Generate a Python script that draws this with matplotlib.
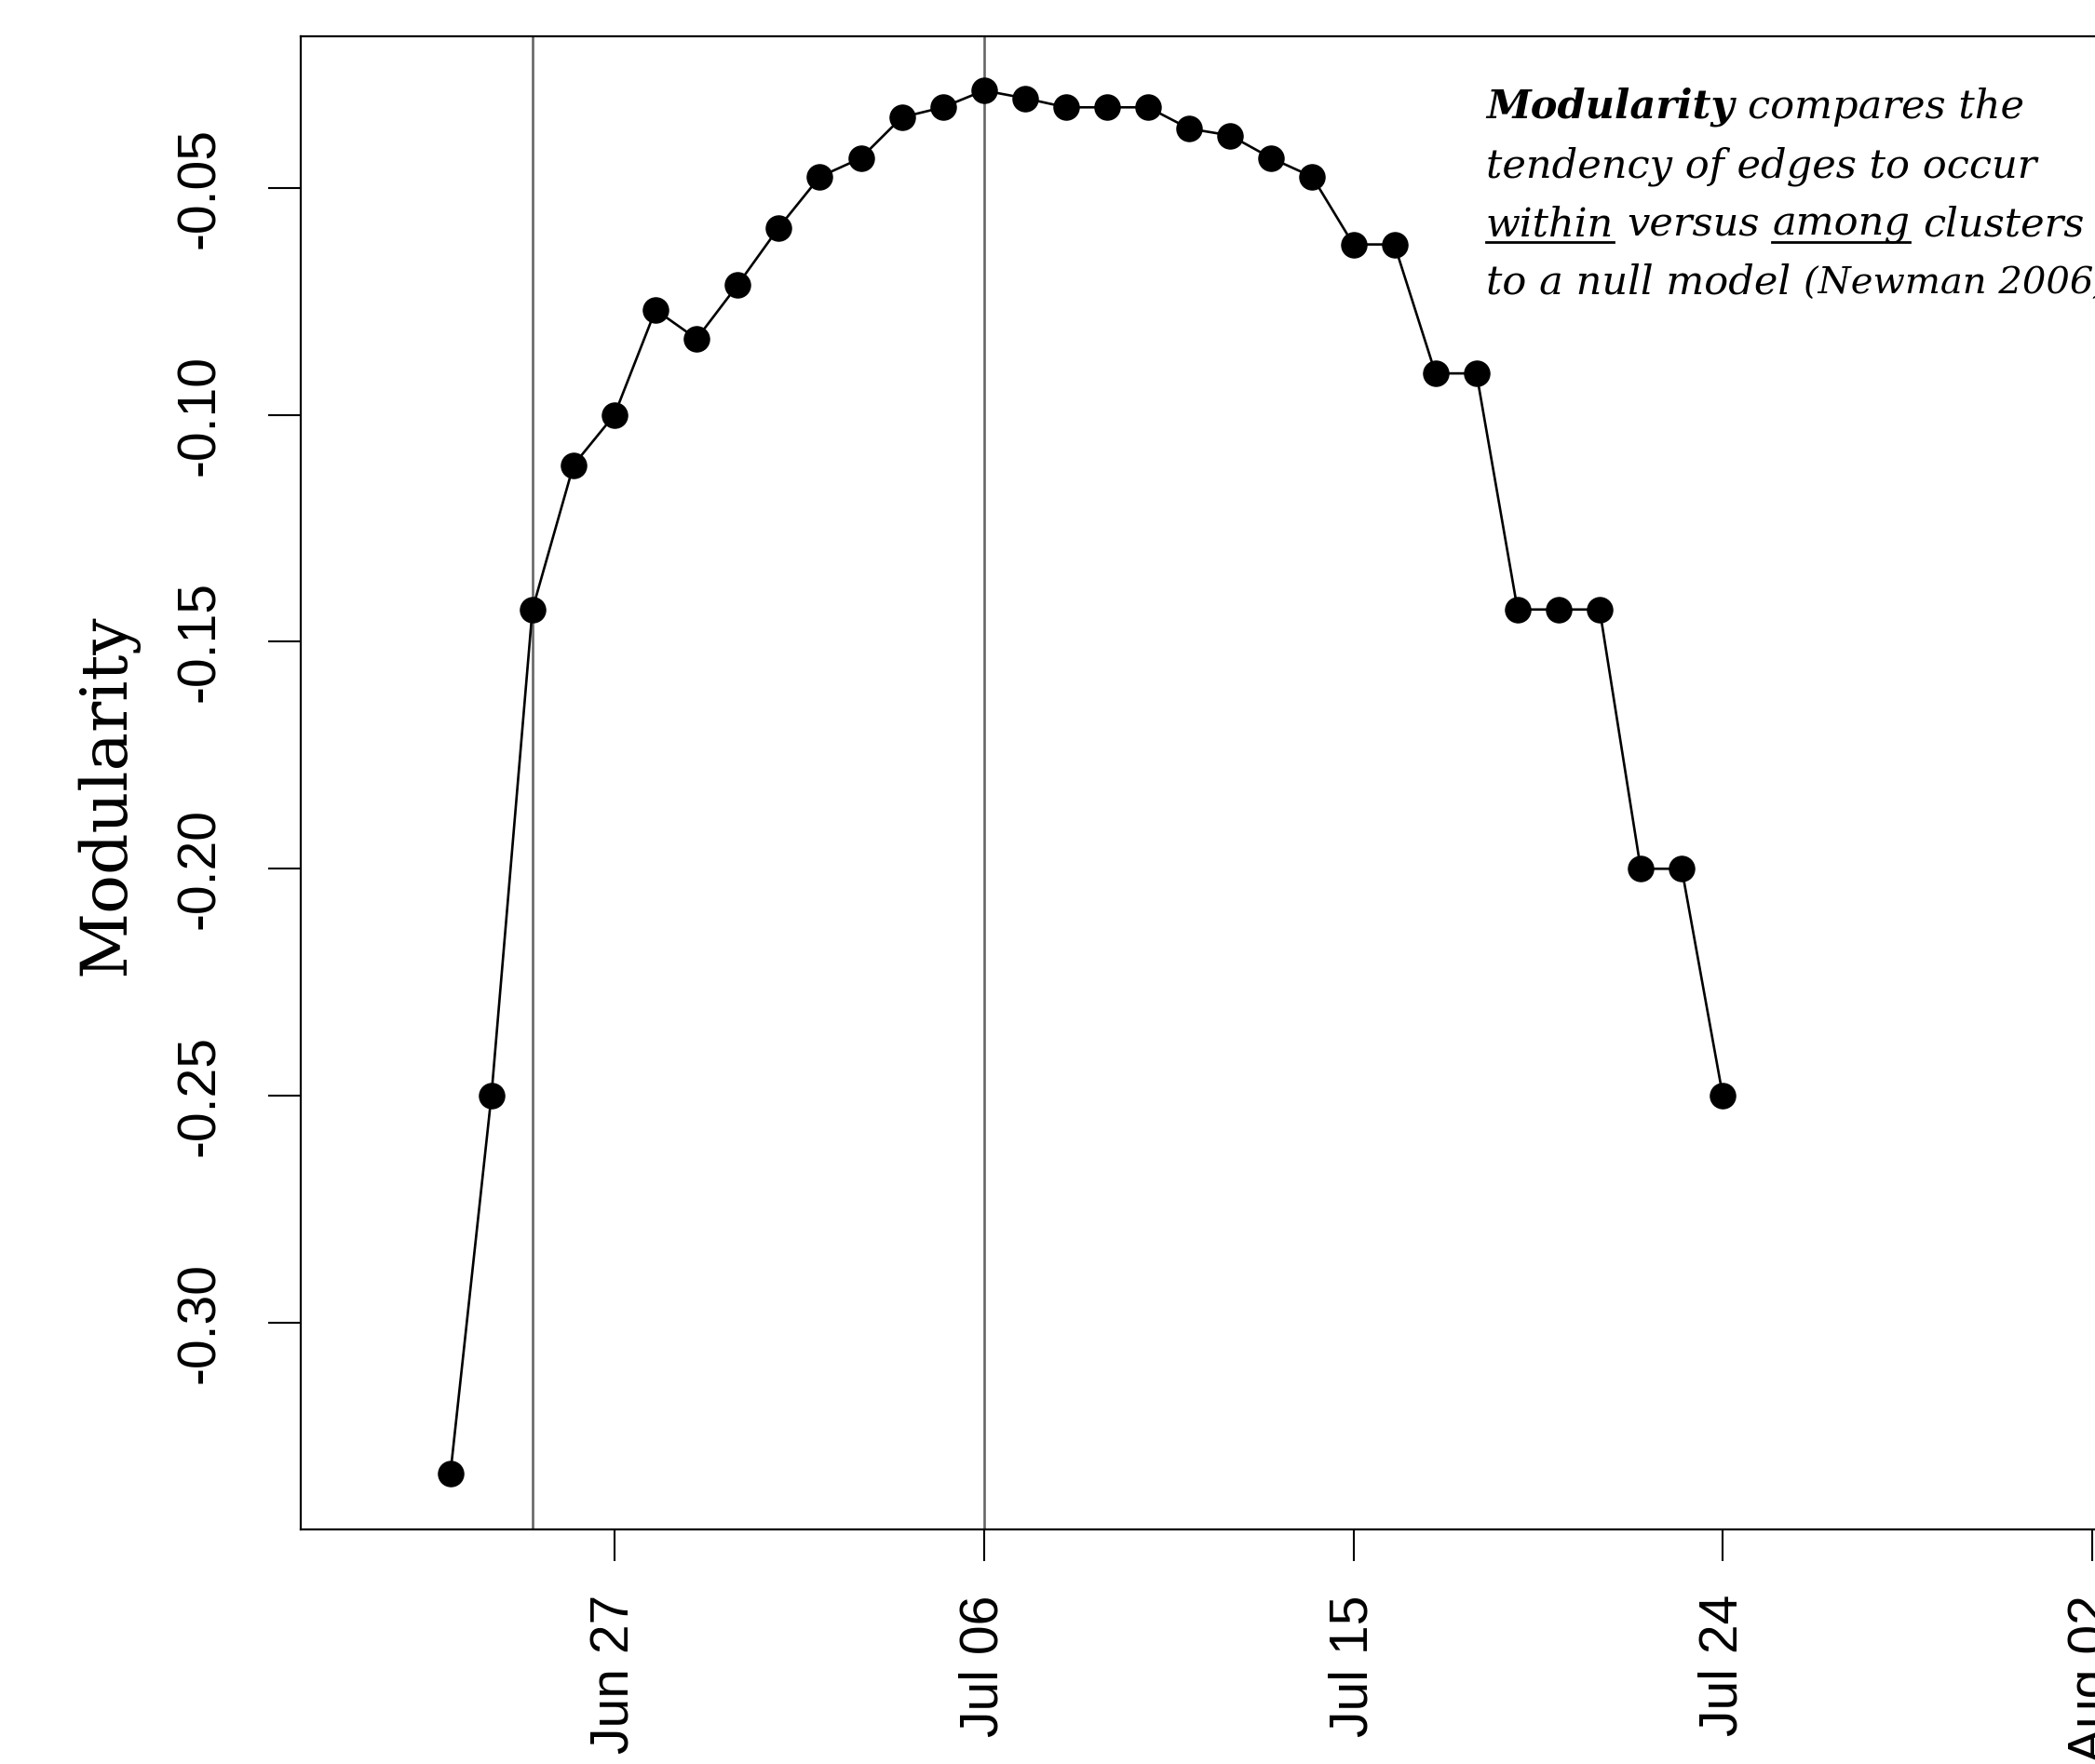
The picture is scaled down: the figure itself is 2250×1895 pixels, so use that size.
import matplotlib
matplotlib.use('Agg')
import matplotlib.pyplot as plt
import matplotlib.dates as mdates
from matplotlib.lines import Line2D
import datetime as dt

# ---------------- data ----------------
date_strings = ['2018-06-23', '2018-06-24', '2018-06-25', '2018-06-26', '2018-06-27',
                '2018-06-28', '2018-06-29', '2018-06-30', '2018-07-01', '2018-07-02',
                '2018-07-03', '2018-07-04', '2018-07-05', '2018-07-06', '2018-07-07',
                '2018-07-08', '2018-07-09', '2018-07-10', '2018-07-11', '2018-07-12',
                '2018-07-13', '2018-07-14', '2018-07-15', '2018-07-16', '2018-07-17',
                '2018-07-18', '2018-07-19', '2018-07-20', '2018-07-21', '2018-07-22',
                '2018-07-23', '2018-07-24']
modularity = [-0.3333, -0.2500, -0.1429, -0.1111, -0.1000,
              -0.0769, -0.0833, -0.0714, -0.0588, -0.0476,
              -0.0435, -0.0345, -0.0323, -0.0286, -0.0303,
              -0.0323, -0.0323, -0.0323, -0.0370, -0.0385,
              -0.0435, -0.0476, -0.0625, -0.0625, -0.0909,
              -0.0909, -0.1429, -0.1429, -0.1429, -0.2000,
              -0.2000, -0.2500]
vline_dates = ['2018-06-25', '2018-07-06']
xtick_dates = ['2018-06-27', '2018-07-06', '2018-07-15', '2018-07-24', '2018-08-02']
xtick_labels = ['Jun 27', 'Jul 06', 'Jul 15', 'Jul 24', 'Aug 02']
ytick_values = [-0.30, -0.25, -0.20, -0.15, -0.10, -0.05]
ytick_labels = ['-0.30', '-0.25', '-0.20', '-0.15', '-0.10', '-0.05']
ylabel_text = 'Modularity'
note_lines = [
    [('Modularity', 'bold'), ('compares the', 'normal')],
    [('tendency of edges to occur', 'normal')],
    [('within', 'underline'), ('versus', 'normal'), ('among', 'underline'), ('clusters', 'normal')],
    [('to a null model', 'normal'), ('(Newman 2006)', 'small')],
]

# ---------------- layout ----------------
W, H = 2250, 1895
DPI = 100
fig = plt.figure(figsize=(W / DPI, H / DPI), dpi=DPI)
ax_left, ax_right, ax_top, ax_bottom = 323, 2250, 38.7, 1643
ax = fig.add_axes([ax_left / W, 1 - ax_bottom / H, (ax_right - ax_left) / W, (ax_bottom - ax_top) / H])

to_date = lambda s: dt.datetime.strptime(s, '%Y-%m-%d')
dates = [to_date(s) for s in date_strings]

# vertical reference lines
for d in vline_dates:
    ax.axvline(to_date(d), color='#666666', lw=1.9, zorder=1)

ax.plot(dates, modularity, '-o', color='black', lw=1.9, ms=19.5, zorder=3)

# x range: Jun 27 sits at px 660, Aug 02 at px 2247
days_per_px = 36.0 / (2247 - 660)
x0 = mdates.date2num(to_date('2018-06-27')) - (660 - ax_left) * days_per_px
x1 = mdates.date2num(to_date('2018-08-02')) + (ax_right - 2247) * days_per_px
ax.set_xlim(x0, x1)
ax.set_ylim(-0.3455, -0.0166)

ax.set_xticks([to_date(d) for d in xtick_dates])
ax.set_xticklabels(xtick_labels, rotation=90, ha='center', va='top',
                   family=['Liberation Sans', 'DejaVu Sans'], fontsize=41)
ax.set_yticks(ytick_values)
ax.set_yticklabels(ytick_labels, rotation=90, ha='right', va='center',
                   family=['Liberation Sans', 'DejaVu Sans'], fontsize=41)

ax.tick_params(axis='x', direction='out', length=24.5, width=1.5, pad=26, color='black')
ax.tick_params(axis='y', direction='out', length=25, width=1.5, pad=33, color='black')

for side in ['left', 'top', 'bottom']:
    ax.spines[side].set_linewidth(1.6)
    ax.spines[side].set_color('black')
ax.spines['right'].set_visible(False)

renderer = fig.canvas.get_renderer()

def text_width(s, **kw):
    t = fig.text(0, 0, s, **kw)
    w = t.get_window_extent(renderer).width
    t.remove()
    return w

# y label
yl_fs0 = 50
yl_w = text_width(ylabel_text, family='DejaVu Serif', fontsize=yl_fs0)
yl_fs = yl_fs0 * 389.0 / yl_w
fig.text(115 / W, 1 - 854 / H, ylabel_text, rotation=90, ha='center', va='center',
         family='DejaVu Serif', fontsize=yl_fs)

# annotation
def style_kw(style, fs):
    kw = dict(family='DejaVu Serif', style='italic', fontsize=fs, weight='normal')
    if style == 'bold':
        kw['weight'] = 'bold'
    if style == 'small':
        kw['fontsize'] = fs * 0.93
    return kw

def line_width(segs, fs):
    total = 0
    for i, (s, st) in enumerate(segs):
        kw = style_kw(st, fs)
        total += text_width(s, **kw)
        if i < len(segs) - 1:
            total += text_width('n n', **kw) - text_width('nn', **kw)
    return total

fs0 = 30
fs = fs0 * 642.0 / line_width(note_lines[2], fs0)

note_x = 1596
baselines = [127, 190, 253, 316]
for segs, yb in zip(note_lines, baselines):
    x = note_x
    for i, (s, st) in enumerate(segs):
        kw = style_kw(st, fs)
        t = fig.text(x / W, 1 - yb / H, s, ha='left', va='baseline', **kw)
        bb = t.get_window_extent(renderer)
        w = bb.width
        if st == 'underline':
            fig.add_artist(Line2D([bb.x0 / W, bb.x1 / W], [1 - (yb + 7) / H] * 2,
                                  color='black', lw=2.0))
        x += w + (text_width('n n', **kw) - text_width('nn', **kw))

fig.savefig('out.png', dpi=DPI)
